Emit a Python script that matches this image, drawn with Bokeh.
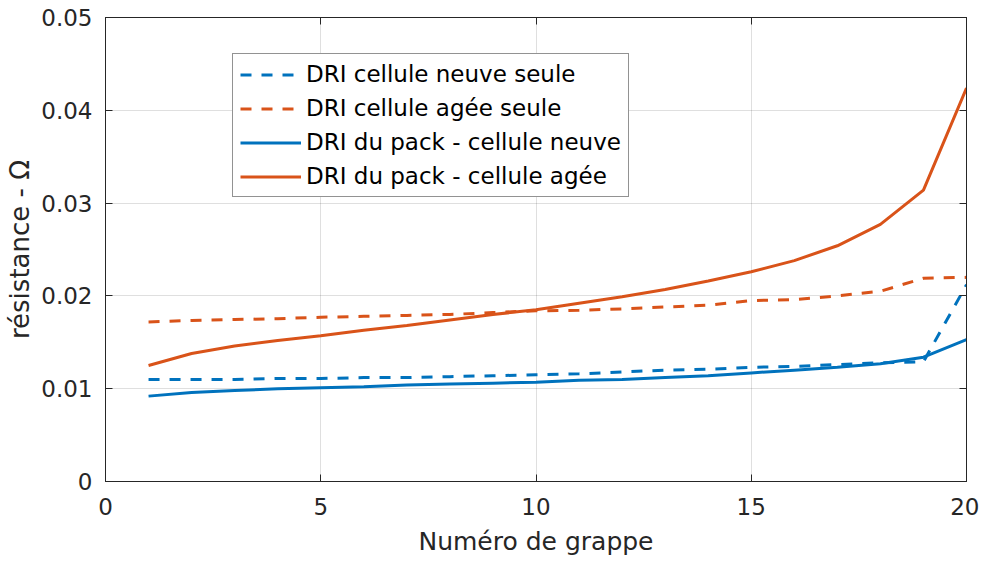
from bokeh.plotting import figure
from bokeh.models import Range1d, LinearAxis, FixedTicker, Legend, LegendItem
from bokeh.embed import file_html
from bokeh.resources import INLINE

# ---------------- data ----------------
grappe = list(range(1, 21))
dri_cellule_neuve_seule = [0.0110, 0.0110, 0.0110, 0.0111, 0.0111, 0.0112, 0.0112, 0.0113, 0.0114, 0.0115,
                           0.0116, 0.0118, 0.0120, 0.0121, 0.0123, 0.0124, 0.0126, 0.0128, 0.0129, 0.0212]
dri_cellule_agee_seule = [0.0172, 0.01735, 0.01745, 0.01755, 0.0177, 0.0178, 0.0179, 0.0180, 0.0182, 0.0184,
                          0.01845, 0.0186, 0.0188, 0.0190, 0.0195, 0.0196, 0.0200, 0.0205, 0.0219, 0.0220]
dri_pack_cellule_neuve = [0.0092, 0.0096, 0.0098, 0.0100, 0.0101, 0.0102, 0.0104, 0.0105, 0.0106, 0.0107,
                          0.0109, 0.0110, 0.0112, 0.0114, 0.0117, 0.0120, 0.0123, 0.0127, 0.0134, 0.0153]
dri_pack_cellule_agee = [0.0125, 0.0138, 0.0146, 0.0152, 0.0157, 0.0163, 0.0168, 0.0174, 0.0180, 0.0185,
                         0.0192, 0.0199, 0.0207, 0.0216, 0.0226, 0.0238, 0.0254, 0.0277, 0.0314, 0.0424]

series_labels = ["DRI cellule neuve seule", "DRI cellule agée seule",
                 "DRI du pack - cellule neuve", "DRI du pack - cellule agée"]

x_ticks = [0, 5, 10, 15, 20]
y_ticks = [0, 0.01, 0.02, 0.03, 0.04, 0.05]
y_tick_labels = ["0", "0.01", "0.02", "0.03", "0.04", "0.05"]

x_label = "Numéro de grappe"
y_label = "résistance - Ω"

# ---------------- style ----------------
BLUE = "#0072BD"
ORANGE = "#D95319"
AX = "#262626"
FONT = "DejaVu Sans"

p = figure(frame_width=861, frame_height=464,
           x_range=Range1d(0, 20), y_range=Range1d(0, 0.05),
           output_backend="svg", toolbar_location=None,
           min_border_left=105, min_border_right=13, min_border_top=17, min_border_bottom=82,
           background_fill_color="white", border_fill_color="white")
p.outline_line_color = AX
p.outline_line_width = 1

r1 = p.line(grappe, dri_cellule_neuve_seule, line_color=BLUE, line_width=3, line_dash="11 10")
r2 = p.line(grappe, dri_cellule_agee_seule, line_color=ORANGE, line_width=3, line_dash="11 10")
r3 = p.line(grappe, dri_pack_cellule_neuve, line_color=BLUE, line_width=3)
r4 = p.line(grappe, dri_pack_cellule_agee, line_color=ORANGE, line_width=3)

# axes
xa = p.xaxis[0]
ya = p.yaxis[0]
xa.ticker = FixedTicker(ticks=x_ticks)
ya.ticker = FixedTicker(ticks=y_ticks)
ya.major_label_overrides = {t: l for t, l in zip(y_ticks, y_tick_labels)}
for a in (xa, ya):
    a.axis_line_color = AX
    a.major_tick_line_color = AX
    a.major_tick_in = 7
    a.major_tick_out = 0
    a.minor_tick_line_color = None
    a.major_label_text_font = FONT
    a.major_label_text_font_size = "23px"
    a.major_label_text_color = AX
    a.axis_label_text_font = FONT
    a.axis_label_text_font_style = "normal"
    a.axis_label_text_color = AX
xa.axis_label_text_font_size = "25px"
ya.axis_label_text_font_size = "26px"
xa.axis_label = x_label
ya.axis_label = y_label
xa.major_label_standoff = 16
xa.axis_label_standoff = 9
ya.major_label_standoff = 13
ya.axis_label_standoff = 3

# box ticks on top and right
top = LinearAxis(ticker=FixedTicker(ticks=x_ticks),
                 major_label_overrides={t: "" for t in x_ticks})
right = LinearAxis(ticker=FixedTicker(ticks=y_ticks),
                   major_label_overrides={t: "" for t in y_ticks})
for a in (top, right):
    a.axis_line_color = AX
    a.major_tick_line_color = AX
    a.major_tick_in = 7
    a.major_tick_out = 0
    a.minor_tick_line_color = None
    a.major_label_standoff = 0
    a.major_label_text_font_size = "1px"
p.add_layout(top, "above")
p.add_layout(right, "right")

# grid
p.xgrid.ticker = FixedTicker(ticks=x_ticks)
p.ygrid.ticker = FixedTicker(ticks=y_ticks)
for g in (p.xgrid[0], p.ygrid[0]):
    g.grid_line_color = AX
    g.grid_line_alpha = 0.15
    g.grid_line_width = 1

legend = Legend(items=[LegendItem(label=series_labels[0], renderers=[r1]),
                       LegendItem(label=series_labels[1], renderers=[r2]),
                       LegendItem(label=series_labels[2], renderers=[r3]),
                       LegendItem(label=series_labels[3], renderers=[r4])],
                location=(127, 284))
legend.border_line_color = AX
legend.border_line_width = 1
legend.background_fill_color = "white"
legend.background_fill_alpha = 1
legend.label_text_font = FONT
legend.label_text_font_size = "23px"
legend.label_text_color = "black"
legend.glyph_width = 61
legend.glyph_height = 25
legend.label_height = 25
legend.spacing = 8
legend.padding = 7
legend.margin = 0
legend.label_standoff = 5
p.add_layout(legend)

open("out.html", "w").write(file_html(p, INLINE))
